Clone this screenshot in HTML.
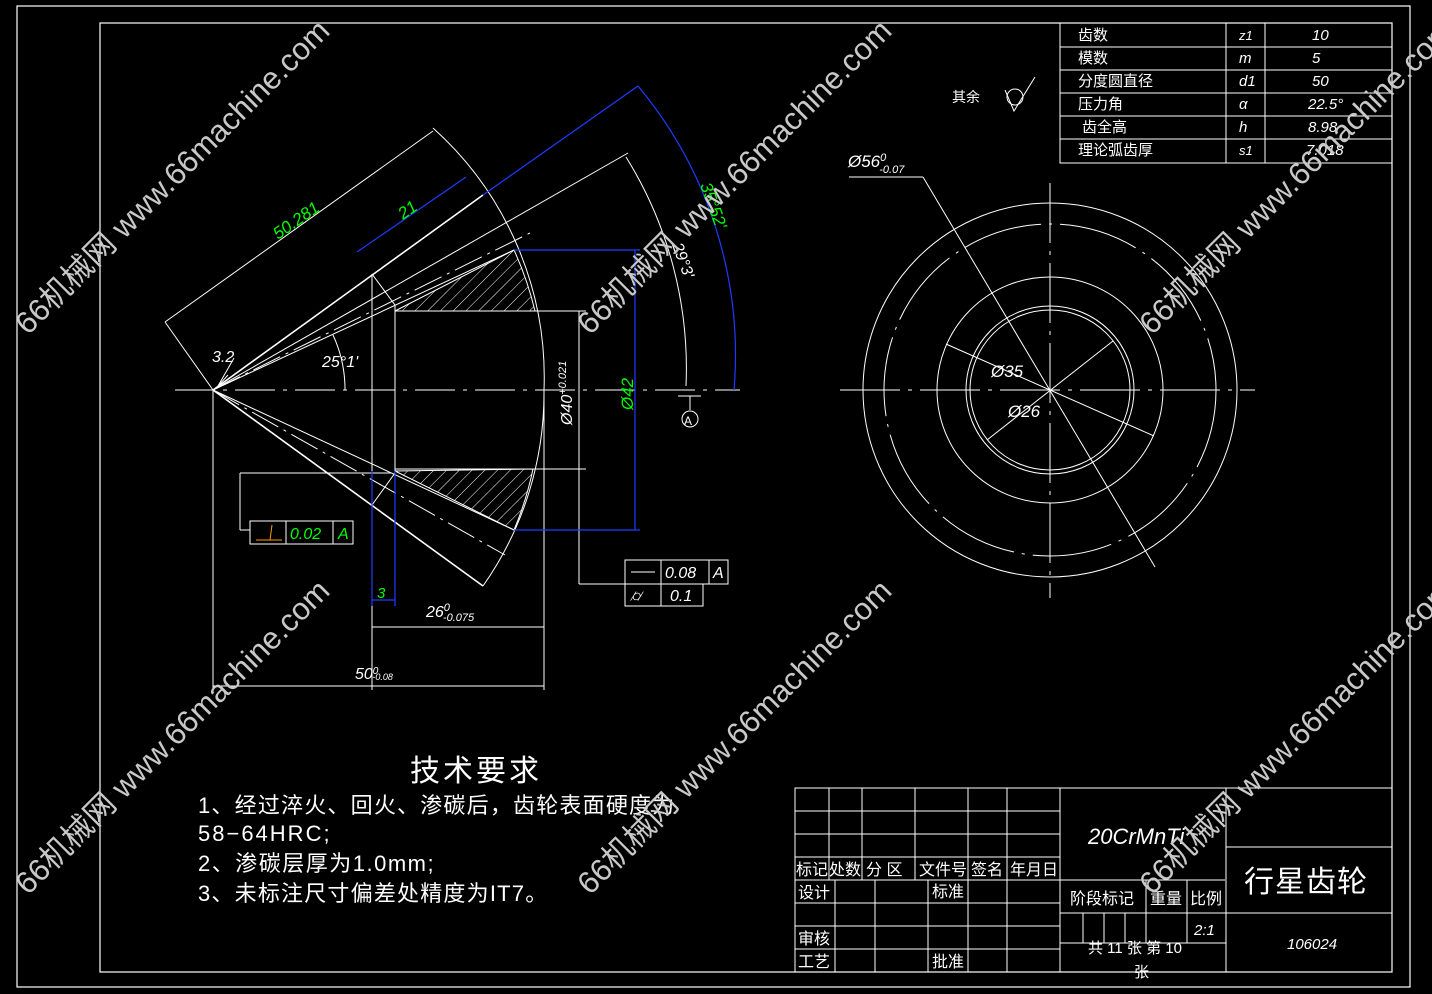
<!DOCTYPE html>
<html><head><meta charset="utf-8"><style>
html,body{margin:0;padding:0;background:#000;}
svg{display:block}
text{font-family:"Liberation Sans","Noto Sans CJK SC",sans-serif;}
</style></head><body>
<svg width="1432" height="994" viewBox="0 0 1432 994" xmlns="http://www.w3.org/2000/svg">
<rect width="1432" height="994" fill="#000"/>
<g fill="none" stroke="#fff" stroke-width="1.2">
<rect x="17" y="6" width="1393" height="981"/>
<rect x="100" y="23" width="1292" height="949"/>
</g>
<defs>
<pattern id="h" width="9" height="9" patternUnits="userSpaceOnUse" patternTransform="rotate(45)">
<line x1="0" y1="0" x2="0" y2="9" stroke="#fff" stroke-width="1"/></pattern>
</defs>
<g fill="none" stroke="#fff" stroke-width="1">
<path d="M395,311 L514,250 A335,335 0 0 1 535,311 Z" fill="url(#h)"/>
<path d="M395,471 L514,530 A335,335 0 0 0 533,469 Z" fill="url(#h)"/>
<line x1="175" y1="390" x2="740" y2="390" stroke-dasharray="40,8,4,8"/>
<line x1="213" y1="390" x2="628" y2="153"/>
<line x1="213" y1="390" x2="483" y2="195" stroke-width="1.6"/>
<line x1="213" y1="390" x2="514" y2="250"/>
<line x1="213" y1="390" x2="530" y2="233" stroke-dasharray="30,6,3,6"/>
<line x1="213" y1="390" x2="483" y2="586" stroke-width="1.6"/>
<line x1="213" y1="390" x2="514" y2="530"/>
<line x1="213" y1="390" x2="505" y2="555" stroke-dasharray="30,6,3,6"/>
<path d="M433,128 A335,335 0 0 1 544,390 A335,335 0 0 1 483,586"/>
<line x1="372" y1="274" x2="395" y2="305"/>
<line x1="372" y1="505" x2="395" y2="473"/>
<line x1="372" y1="274" x2="372" y2="690"/>
<line x1="395" y1="305" x2="395" y2="471"/>
<line x1="395" y1="311" x2="586" y2="311"/>
<line x1="395" y1="469" x2="586" y2="469"/>
<line x1="544" y1="390" x2="544" y2="690"/>
<line x1="213" y1="390" x2="213" y2="690"/>
<line x1="213" y1="686" x2="544" y2="686"/>
<line x1="372" y1="627" x2="544" y2="627"/>
<line x1="213" y1="390" x2="165" y2="322"/>
<line x1="165" y1="322" x2="433" y2="131"/>
<path d="M626,157 A400,400 0 0 1 686,386"/>
<path d="M333,335 A130,130 0 0 1 345,390"/>
<line x1="579" y1="311" x2="579" y2="584"/>
<line x1="579" y1="584" x2="625" y2="584"/>
<line x1="240" y1="473" x2="391" y2="473"/>
<line x1="240" y1="473" x2="240" y2="530"/>
<line x1="240" y1="530" x2="250" y2="530"/>
<rect x="250" y="521" width="103" height="23"/>
<line x1="286" y1="521" x2="286" y2="544"/><line x1="333" y1="521" x2="333" y2="544"/>
<rect x="625" y="560" width="103" height="24"/>
<rect x="625" y="584" width="78" height="22"/>
<line x1="661" y1="560" x2="661" y2="606"/><line x1="709" y1="560" x2="709" y2="584"/>
<line x1="631" y1="572" x2="655" y2="572"/>
<line x1="678" y1="396" x2="701" y2="396"/><line x1="690" y1="396" x2="690" y2="410"/>
<circle cx="690" cy="419" r="8"/>
<line x1="218" y1="386" x2="234" y2="358"/><line x1="218" y1="386" x2="228" y2="375"/>
</g>
<g fill="none" stroke="#1e3cff" stroke-width="1.2">
<line x1="357" y1="252" x2="466" y2="177"/>
<line x1="483" y1="195" x2="638" y2="86"/>
<path d="M638,86 A420,420 0 0 1 734,390"/>
<line x1="635" y1="250" x2="635" y2="530"/>
<line x1="514" y1="250" x2="640" y2="250"/>
<line x1="514" y1="530" x2="640" y2="530"/>
<line x1="372" y1="471" x2="372" y2="606"/>
<line x1="395" y1="471" x2="395" y2="606"/>
<line x1="372" y1="600" x2="395" y2="600"/>
</g>
<g fill="#0f0" font-size="17" font-style="italic">
<text transform="translate(278,240) rotate(-35)">50.281</text>
<text transform="translate(403,220) rotate(-35)">21</text>
<text transform="translate(700,185) rotate(70)">35°52'</text>
<text transform="translate(633,410) rotate(-90)">Ø42</text>
<text x="377" y="598" font-size="15">3</text>
<text x="290" y="539" font-size="16">0.02</text>
<text x="338" y="539" font-size="16">A</text>
</g>
<g fill="#fff" font-size="16" font-style="italic">
<text transform="translate(672,245) rotate(70)">29°3'</text>
<text x="322" y="367">25°1'</text>
<text x="212" y="362">3.2</text>
<text transform="translate(572,425) rotate(-90)">Ø40<tspan font-size="11" dy="-6">+0.021</tspan></text>
<text x="684" y="425" font-size="12" font-style="normal">A</text>
<text x="426" y="617">26<tspan font-size="11" dy="-6">0</tspan><tspan font-size="11" dx="-7" dy="10">-0.075</tspan></text>
<text x="355" y="679">50<tspan font-size="10" dy="-5">0</tspan><tspan font-size="9" dx="-6" dy="6">-0.08</tspan></text>
<text x="665" y="578">0.08</text><text x="713" y="578">A</text>
<text x="670" y="601">0.1</text>
<text x="630" y="601">⌭</text>
</g>
<line x1="256" y1="540" x2="282" y2="540" stroke="#f90"/><line x1="270" y1="540" x2="272" y2="525" stroke="#f90"/>
<g fill="none" stroke="#fff" stroke-width="1">
<circle cx="1050" cy="390" r="187"/>
<circle cx="1050" cy="390" r="166" stroke-dasharray="80,8,3,8"/>
<circle cx="1050" cy="390" r="113"/>
<circle cx="1050" cy="390" r="84"/>
<circle cx="1050" cy="390" r="80"/>
<line x1="840" y1="390" x2="1255" y2="390" stroke-dasharray="60,8,4,8"/>
<line x1="1050" y1="183" x2="1050" y2="598" stroke-dasharray="60,8,4,8"/>
<line x1="849" y1="177" x2="923" y2="177"/>
<line x1="923" y1="177" x2="1155" y2="567"/>
<line x1="946" y1="344" x2="1154" y2="436"/>
<line x1="987" y1="440" x2="1113" y2="341"/>
</g>
<g fill="#fff" font-size="17" font-style="italic">
<text x="848" y="167">Ø56<tspan font-size="11" dy="-6">0</tspan><tspan font-size="11" dx="-7" dy="12">-0.07</tspan></text>
<text x="991" y="377">Ø35</text>
<text x="1008" y="417">Ø26</text>
</g>
<text x="952" y="102" fill="#fff" font-size="14">其余</text>
<g fill="none" stroke="#fff"><circle cx="1015" cy="97" r="8"/><path d="M1005,90 L1014,111 L1035,77"/></g>
<g fill="none" stroke="#fff" stroke-width="1">
<rect x="1060" y="23" width="332" height="140"/>
<line x1="1060" y1="47" x2="1392" y2="47"/><line x1="1060" y1="70" x2="1392" y2="70"/>
<line x1="1060" y1="93" x2="1392" y2="93"/><line x1="1060" y1="116" x2="1392" y2="116"/>
<line x1="1060" y1="139" x2="1392" y2="139"/>
<line x1="1226" y1="23" x2="1226" y2="163"/><line x1="1265" y1="23" x2="1265" y2="163"/>
</g>
<g fill="#fff" font-size="15">
<text x="1078" y="40">齿数</text><text x="1078" y="63">模数</text><text x="1078" y="86">分度圆直径</text>
<text x="1078" y="109">压力角</text><text x="1082" y="132">齿全高</text><text x="1078" y="155">理论弧齿厚</text>
<g font-style="italic"><text x="1239" y="40" font-size="13">z1</text><text x="1239" y="63">m</text><text x="1239" y="86">d1</text>
<text x="1239" y="109">α</text><text x="1239" y="132">h</text><text x="1239" y="155" font-size="13">s1</text>
<text x="1312" y="40">10</text><text x="1312" y="63">5</text><text x="1312" y="86">50</text>
<text x="1308" y="109">22.5°</text><text x="1308" y="132">8.98</text><text x="1306" y="155">7.018</text></g>
</g>
<g fill="#fff">
<text x="410" y="781" font-size="30" letter-spacing="3">技术要求</text>
<text x="198" y="813" font-size="22" letter-spacing="1.2">1、经过淬火、回火、渗碳后，齿轮表面硬度为</text>
<text x="198" y="841" font-size="22" letter-spacing="2">58−64HRC;</text>
<text x="198" y="871" font-size="22" letter-spacing="1.5">2、渗碳层厚为1.0mm;</text>
<text x="198" y="901" font-size="22" letter-spacing="1.2">3、未标注尺寸偏差处精度为IT7。</text>
</g>
<g fill="none" stroke="#fff" stroke-width="1">
<rect x="795" y="788" width="597" height="184"/>
<line x1="795" y1="811" x2="1060" y2="811"/><line x1="795" y1="834" x2="1060" y2="834"/>
<line x1="795" y1="857" x2="1060" y2="857"/><line x1="795" y1="880" x2="1225" y2="880"/>
<line x1="795" y1="903" x2="1060" y2="903"/><line x1="795" y1="926" x2="1060" y2="926"/>
<line x1="795" y1="949" x2="1060" y2="949"/>
<line x1="829" y1="788" x2="829" y2="880"/><line x1="862" y1="788" x2="862" y2="880"/>
<line x1="915" y1="788" x2="915" y2="880"/><line x1="968" y1="788" x2="968" y2="972"/>
<line x1="1007" y1="788" x2="1007" y2="972"/><line x1="1060" y1="788" x2="1060" y2="972"/>
<line x1="835" y1="880" x2="835" y2="972"/><line x1="875" y1="880" x2="875" y2="972"/>
<line x1="928" y1="880" x2="928" y2="972"/>
<line x1="1226" y1="788" x2="1226" y2="972"/>
<line x1="1226" y1="847" x2="1392" y2="847"/><line x1="1060" y1="913" x2="1392" y2="913"/>
<line x1="1060" y1="943" x2="1226" y2="943"/>
<line x1="1146" y1="880" x2="1146" y2="943"/><line x1="1187" y1="880" x2="1187" y2="943"/>
<line x1="1083" y1="913" x2="1083" y2="943"/><line x1="1104" y1="913" x2="1104" y2="943"/><line x1="1125" y1="913" x2="1125" y2="943"/>
</g>
<g fill="#fff" font-size="16">
<text x="796" y="875">标记</text><text x="829" y="875">处数</text><text x="866" y="875">分  区</text>
<text x="919" y="875">文件号</text><text x="971" y="875">签名</text><text x="1010" y="875">年月日</text>
<text x="798" y="898">设计</text><text x="932" y="897">标准</text>
<text x="798" y="944">审核</text><text x="798" y="967">工艺</text><text x="932" y="967">批准</text>
<text x="1070" y="904">阶段标记</text><text x="1150" y="904">重量</text><text x="1190" y="904">比例</text>
<text x="1088" y="953" font-size="15">共  11   张   第  10</text><text x="1134" y="977" font-size="15">张</text>
<text x="1194" y="935" font-style="italic" font-size="15">2:1</text>
<text x="1088" y="844" font-size="22" font-style="italic">20CrMnTi</text>
<text x="1244" y="892" font-size="30" letter-spacing="1">行星齿轮</text>
<text x="1287" y="949" font-style="italic" font-size="15">106024</text>
</g>
<g fill="#c8c8c8" font-size="31">
<text transform="translate(28,336) rotate(-45)">66机械网 www.66machine.com</text>
<text transform="translate(590,336) rotate(-45)">66机械网 www.66machine.com</text>
<text transform="translate(1152,336) rotate(-45)">66机械网 www.66machine.com</text>
<text transform="translate(28,896) rotate(-45)">66机械网 www.66machine.com</text>
<text transform="translate(590,896) rotate(-45)">66机械网 www.66machine.com</text>
<text transform="translate(1152,896) rotate(-45)">66机械网 www.66machine.com</text>
</g>
</svg>
</body></html>
